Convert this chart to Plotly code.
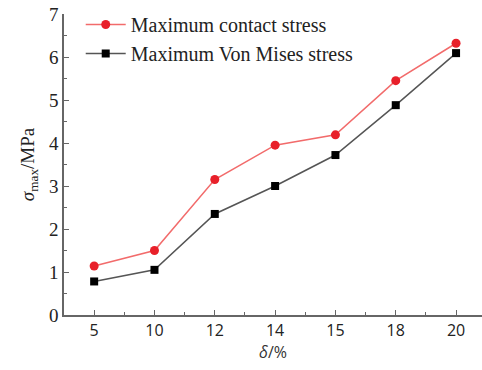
import plotly.graph_objects as go

categories = ["5", "10", "12", "14", "15", "18", "20"]
contact_stress = [1.14, 1.50, 3.15, 3.95, 4.19, 5.45, 6.32]
von_mises_stress = [0.78, 1.05, 2.35, 3.0, 3.72, 4.88, 6.09]
y_ticks = [0, 1, 2, 3, 4, 5, 6, 7]

xpos = list(range(len(categories)))

fig = go.Figure()
fig.add_trace(go.Scatter(
    x=xpos, y=contact_stress, mode="lines+markers", name="Maximum contact stress",
    line=dict(color="#f26b6b", width=1.5),
    marker=dict(color="#e8202a", size=9, symbol="circle"),
))
fig.add_trace(go.Scatter(
    x=xpos, y=von_mises_stress, mode="lines+markers", name="Maximum Von Mises stress",
    line=dict(color="#555555", width=1.5),
    marker=dict(color="#000000", size=8, symbol="square"),
))

fig.update_layout(
    width=482, height=370,
    margin=dict(l=64, r=0, t=14, b=55, autoexpand=False),
    paper_bgcolor="white", plot_bgcolor="white",
    showlegend=True,
    legend=dict(x=0.04, y=1.03, xanchor="left", yanchor="top",
                bgcolor="rgba(0,0,0,0)", borderwidth=0,
                font=dict(family="Liberation Serif", size=20, color="#222"),
                tracegroupgap=0, itemwidth=40),
    xaxis=dict(
        range=[-0.5, 6.43], tickmode="array", tickvals=xpos, ticktext=categories,
        showgrid=False, zeroline=False, showline=True, linecolor="#666", linewidth=1.5,
        ticks="inside", ticklen=5, tickcolor="#666", automargin=False,
        minor=dict(dtick=0.5, tick0=0, ticks="inside", ticklen=3, tickcolor="#666"),
        tickfont=dict(family="Open Sans", size=16, color="#222"),
        title=dict(text="<i>δ</i>/%", font=dict(family="Open Sans", size=16, color="#333"), standoff=2),
    ),
    yaxis=dict(
        range=[0, 7], tickvals=y_ticks,
        showgrid=False, zeroline=False, showline=True, linecolor="#666", linewidth=1.5,
        ticks="inside", ticklen=5, tickcolor="#666", automargin=False,
        minor=dict(dtick=0.5, ticks="inside", ticklen=3, tickcolor="#666"),
        tickfont=dict(family="Liberation Serif", size=19, color="#222"),
        title=dict(text="<i>σ</i><sub>max</sub>/MPa", font=dict(family="Liberation Serif", size=19, color="#222"), standoff=9),
    ),
)

fig.write_html("out.html", config={"displayModeBar": False},
               post_script="document.body.style.margin='0';")
